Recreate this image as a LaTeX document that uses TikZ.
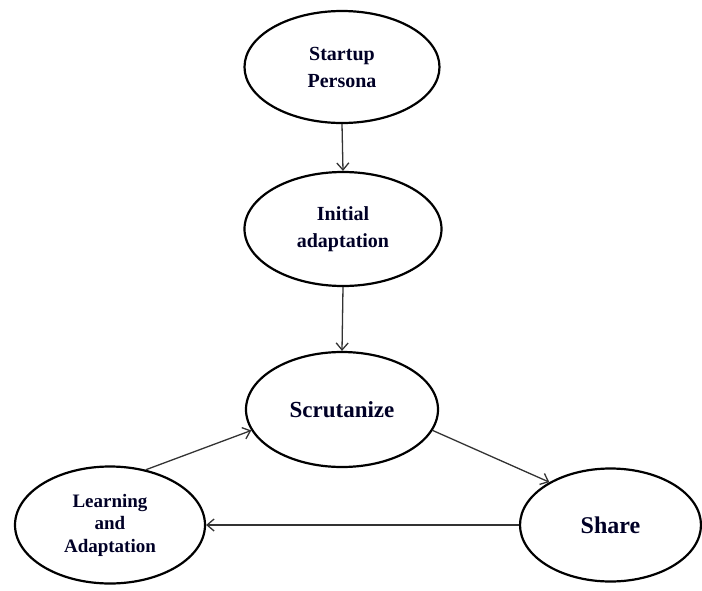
\documentclass[tikz,border=0pt]{standalone}
\usepackage{fontspec}
\setmainfont{Liberation Serif}
\usetikzlibrary{shapes.geometric,arrows.meta}

\tikzset{
  stage/.style={ellipse, draw=black, line width=2.2pt, inner sep=0pt,
                align=center, font=\bfseries, text=black!85!blue},
  flow/.style={draw=black!80, line width=1.3pt,
               -{Straight Barb[length=7pt,width=12pt,line width=1.3pt]}}
}

\begin{document}
\begin{tikzpicture}[x=1pt,y=-1pt]
  \useasboundingbox (0,0) rectangle (702,590);

  % stages of the loop
  \node[stage, minimum width=195pt, minimum height=112pt,
        font=\bfseries\fontsize{20}{27}\selectfont]
        (startup) at (342,67) {Startup\\Persona};
  \node[stage, minimum width=197pt, minimum height=114pt,
        font=\bfseries\fontsize{20}{27}\selectfont]
        (initial) at (343,229) {Initial\\adaptation};
  \node[stage, minimum width=192pt, minimum height=115pt,
        font=\bfseries\fontsize{23}{27}\selectfont]
        (scrut) at (342,409.5) {Scrutanize};
  \node[stage, minimum width=190pt, minimum height=117pt,
        font=\bfseries\fontsize{19}{22.5}\selectfont]
        (learn) at (110,525) {Learning\\and\\Adaptation};
  \node[stage, minimum width=181pt, minimum height=113pt,
        font=\bfseries\fontsize{24}{28}\selectfont]
        (share) at (610.5,525) {Share};

  % connectors
  \draw[flow] (startup.south) -- (initial.north);
  \draw[flow] (initial.south) -- (scrut.north);
  \draw[flow] (scrut.-13) -- (share.145.5);
  \draw[flow] (share.west) -- (learn.east);
  \draw[flow] (learn.57) -- (scrut.193.3);
\end{tikzpicture}
\end{document}
